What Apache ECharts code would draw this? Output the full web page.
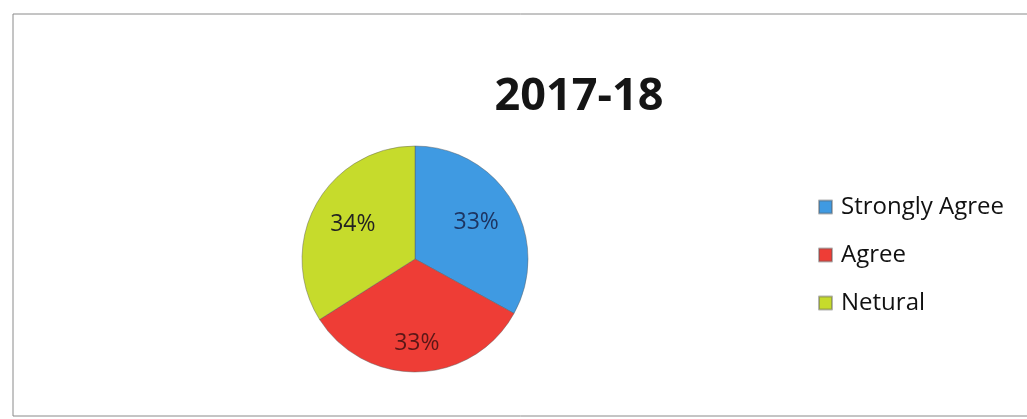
<!DOCTYPE html>
<html>
<head>
<meta charset="utf-8">
<script src="https://cdn.jsdelivr.net/npm/echarts@6/dist/echarts.min.js"></script>
<style>
html,body{margin:0;padding:0;background:#fff;}
#c{width:1027px;height:419px;}
</style>
</head>
<body>
<div id="c"></div>
<script>
var titleText = '2017-18';
var categories = ['Strongly Agree', 'Agree', 'Netural'];
var values = [33, 33, 34];
var colors = ['#3f9ae2', '#ee3d36', '#c6db2c'];
var labelColors = ['#1d3461', '#5a1717', '#222222'];
var labelShift = [[10, -6], [0, 25], [-10, -6]];

var chart = echarts.init(document.getElementById('c'), null, {renderer: 'canvas'});
var data = categories.map(function (name, i) {
  return {
    name: name,
    value: values[i],
    itemStyle: {color: colors[i]},
    label: {color: labelColors[i]}
  };
});
chart.setOption({
  backgroundColor: '#ffffff',
  animation: false,
  title: {
    text: titleText,
    left: 574,
    top: 70,
    textAlign: 'center',
    textStyle: {fontFamily: 'Open Sans', fontWeight: 'bold', fontSize: 45, color: '#151515'}
  },
  legend: {
    orient: 'vertical',
    left: 813,
    top: 190,
    itemGap: 24,
    itemWidth: 13,
    itemHeight: 13,
    icon: 'rect',
    data: categories,
    textStyle: {fontFamily: 'Open Sans', fontSize: 24, color: '#111111', padding: [0, 0, 0, 4]}
  },
  graphic: [{
    type: 'rect',
    shape: {x: 13, y: 14, width: 1030, height: 402},
    style: {fill: 'none', stroke: '#8a8a8a', lineWidth: 1},
    silent: true
  }],
  series: [{
    type: 'pie',
    center: [415, 259],
    radius: [0, 113],
    startAngle: 90,
    clockwise: true,
    data: data,
    itemStyle: {borderColor: 'rgba(90,90,90,0.45)', borderWidth: 1},
    label: {
      show: true,
      position: 'inside',
      formatter: '{c}%',
      fontFamily: 'Open Sans',
      fontSize: 23
    },
    labelLayout: function (p) {
      var s = labelShift[p.dataIndex];
      return {dx: s[0], dy: s[1]};
    },
    labelLine: {show: false},
    emphasis: {disabled: true}
  }]
});
</script>
</body>
</html>
